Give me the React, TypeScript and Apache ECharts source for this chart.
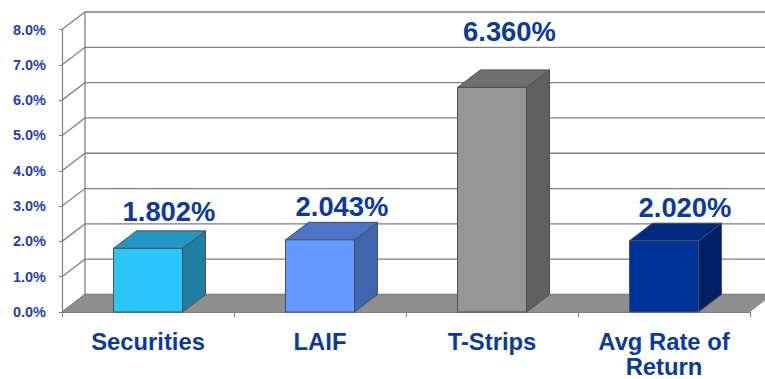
import React, { useEffect, useRef } from "react";
import * as echarts from "echarts";

const categories = ["Securities", "LAIF", "T-Strips", "Avg Rate of\nReturn"];
const rates = [1.802, 2.043, 6.36, 2.02];
const rateLabels = ["1.802%", "2.043%", "6.360%", "2.020%"];
const yTicks = [0, 1, 2, 3, 4, 5, 6, 7, 8];
const frontColors = ["#2ac6fb", "#6699ff", "#969696", "#003399"];
const topColors = ["#2399c2", "#4d74c6", "#6f6f6f", "#002a80"];
const sideColors = ["#1f7fa3", "#4066ad", "#606060", "#001f66"];
// Rate label placement relative to the column: rightward from its centre,
// and upward from the back edge of its top face.
const labelShift = [21, 22, 17.5, 21];
const labelLift = [19, 16, 38, 16];

const DEPTH_X = 23;
const DEPTH_Y = 17.5;
const BAR_WIDTH = 69;
const GRID_COLOR = "#808080";
const FONT = '"Liberation Sans", Arial, sans-serif';

export default function App() {
  const ref = useRef<HTMLDivElement>(null);

  useEffect(() => {
    const chart = echarts.init(ref.current!, null, { renderer: "svg" });

    chart.setOption({
      animation: false,
      backgroundColor: "#ffffff",
      grid: {
        left: 62,
        top: 29.5,
        width: 688,
        height: 282.5,
        containLabel: false,
        outerBoundsMode: "none",
      },
      xAxis: {
        type: "category",
        data: categories,
        axisLine: { show: true, lineStyle: { color: GRID_COLOR, width: 1.2 } },
        axisTick: { show: true, alignWithLabel: false, length: 5, lineStyle: { color: GRID_COLOR } },
        axisLabel: {
          interval: 0,
          margin: 16.5,
          color: "#0a3aa0",
          fontFamily: FONT,
          fontWeight: "bold",
          fontSize: 23.8,
          lineHeight: 25,
        },
      },
      yAxis: {
        type: "value",
        min: 0,
        max: 8,
        interval: 1,
        axisLine: { show: true, lineStyle: { color: GRID_COLOR, width: 1.2 } },
        axisTick: { show: true, length: 3, lineStyle: { color: GRID_COLOR } },
        splitLine: { show: false },
        axisLabel: {
          margin: 16,
          color: "#1f3fb0",
          fontFamily: FONT,
          fontWeight: "bold",
          fontSize: 14.5,
          formatter: (v: number) => `${v.toFixed(1)}%`,
        },
      },
      series: [
        {
          // Floor of the box and the back-wall upright.
          type: "custom",
          z: 1,
          data: [[0, 0]],
          renderItem: (params: any, api: any) => {
            const cs = params.coordSys;
            const y0 = api.coord([0, 0])[1];
            const y8 = api.coord([0, 8])[1];
            const xL = cs.x;
            const xR = cs.x + cs.width;
            return {
              type: "group",
              children: [
                {
                  type: "polygon",
                  shape: {
                    points: [
                      [xL, y0],
                      [xL + DEPTH_X, y0 - DEPTH_Y],
                      [xR + DEPTH_X, y0 - DEPTH_Y],
                      [xR, y0],
                    ],
                  },
                  style: { fill: "#8f8f8f" },
                },
                {
                  type: "line",
                  shape: { x1: xL + DEPTH_X, y1: y0 - DEPTH_Y, x2: xL + DEPTH_X, y2: y8 - DEPTH_Y },
                  style: { stroke: GRID_COLOR, lineWidth: 1.3 },
                },
              ],
            };
          },
        },
        {
          // Gridlines: a diagonal on the side wall and a run along the back wall.
          type: "custom",
          z: 2,
          data: yTicks.map((t) => [0, t]),
          renderItem: (params: any, api: any) => {
            const cs = params.coordSys;
            const y = api.coord([0, api.value(1)])[1];
            const xL = cs.x;
            const xR = cs.x + cs.width;
            return {
              type: "polyline",
              shape: {
                points: [
                  [xL, y],
                  [xL + DEPTH_X, y - DEPTH_Y],
                  [xR + DEPTH_X, y - DEPTH_Y],
                ],
              },
              style: { stroke: GRID_COLOR, lineWidth: 1.3, fill: "none" },
            };
          },
        },
        {
          // Columns with top and side faces, plus the rate above each.
          type: "custom",
          z: 3,
          data: rates.map((r, i) => [i, r]),
          renderItem: (_params: any, api: any) => {
            const i = api.value(0);
            const [cx, top] = api.coord([i, api.value(1)]);
            const base = api.coord([i, 0])[1];
            const l = cx - BAR_WIDTH / 2;
            const r = cx + BAR_WIDTH / 2;
            const edge = { stroke: "#4a4f55", lineWidth: 1 };
            return {
              type: "group",
              children: [
                {
                  type: "polygon",
                  shape: {
                    points: [
                      [r, top],
                      [r + DEPTH_X, top - DEPTH_Y],
                      [r + DEPTH_X, base - DEPTH_Y],
                      [r, base],
                    ],
                  },
                  style: { fill: sideColors[i], ...edge },
                },
                {
                  type: "polygon",
                  shape: {
                    points: [
                      [l, top],
                      [l + DEPTH_X, top - DEPTH_Y],
                      [r + DEPTH_X, top - DEPTH_Y],
                      [r, top],
                    ],
                  },
                  style: { fill: topColors[i], ...edge },
                },
                {
                  type: "rect",
                  shape: { x: l, y: top, width: BAR_WIDTH, height: base - top },
                  style: { fill: frontColors[i], ...edge },
                },
                {
                  type: "text",
                  style: {
                    text: rateLabels[i],
                    x: cx + labelShift[i],
                    y: top - DEPTH_Y - labelLift[i],
                    align: "center",
                    verticalAlign: "middle",
                    fill: "#0a3aa0",
                    font: `bold 27.4px ${FONT}`,
                  },
                },
              ],
            };
          },
        },
      ],
    });

    return () => chart.dispose();
  }, []);

  return <div ref={ref} style={{ position: "fixed", left: 0, top: 0, width: 765, height: 379 }} />;
}
